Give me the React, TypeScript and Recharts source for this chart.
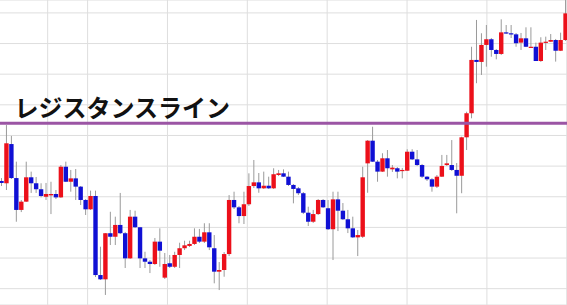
import { Bar, CartesianGrid, ComposedChart, ReferenceLine, XAxis, YAxis } from "recharts";

// OHLC per bar, oldest first (price in chart points)
const opens = [
  80.3, 78.8, 104.4, 82.2, 61.4, 66.8, 82.7, 78.8, 74.9, 70.0,
  70.9, 71.8, 69.6, 89.6, 79.8, 82.0, 76.6, 67.9, 61.8, 70.5,
  18.9, 16.1, 46.2, 43.9, 51.6, 46.2, 29.8, 57.0, 50.1, 29.8,
  27.6, 26.1, 40.7, 17.2, 26.6, 24.3, 32.0, 36.4, 37.9, 39.2,
  43.9, 40.7, 46.8, 36.4, 21.1, 22.2, 32.6, 67.9, 63.1, 57.4,
  65.1, 77.0, 79.4, 75.5, 77.2, 75.5, 84.2, 85.3, 83.1, 77.7,
  75.5, 72.3, 59.6, 53.7, 58.7, 67.9, 62.5, 48.8, 68.3, 60.9,
  55.3, 49.4, 43.5, 43.9, 91.8, 106.6, 92.9, 86.4, 95.1, 87.9,
  88.6, 86.8, 87.0, 99.4, 94.4, 90.7, 83.1, 81.4, 76.6, 83.1,
  90.7, 90.7, 87.5, 83.7, 108.8, 124.5, 159.3, 158.0, 169.1, 172.8,
  165.8, 163.2, 177.3, 176.7, 176.0, 170.6, 173.4, 167.3, 167.9, 158.6,
  170.6, 171.2, 172.3, 165.3, 172.3,
];
const highs = [
  82.2, 116.8, 109.7, 92.9, 67.9, 92.9, 86.4, 82.9, 78.8, 79.0,
  79.8, 74.4, 90.7, 92.9, 87.5, 88.1, 77.0, 68.5, 74.0, 74.0,
  37.4, 46.3, 60.2, 57.0, 72.5, 47.0, 61.4, 60.9, 50.3, 34.1,
  28.7, 43.1, 49.4, 33.3, 32.0, 34.1, 40.0, 41.3, 41.3, 49.4,
  49.0, 52.7, 52.7, 45.0, 27.4, 33.9, 71.1, 73.3, 64.0, 73.3,
  85.3, 94.0, 85.5, 86.4, 83.1, 88.6, 87.5, 87.9, 86.4, 78.3,
  76.4, 73.1, 63.5, 61.4, 68.5, 68.5, 67.9, 73.3, 73.3, 65.9,
  61.4, 57.0, 48.3, 89.6, 107.0, 115.7, 94.0, 98.4, 100.5, 90.7,
  89.4, 88.8, 101.0, 101.0, 100.5, 91.4, 83.5, 82.2, 84.2, 97.3,
  97.3, 107.0, 92.0, 109.2, 125.5, 167.9, 185.4, 176.7, 182.1, 173.6,
  166.4, 185.8, 182.1, 182.1, 176.9, 176.9, 180.6, 180.6, 170.6, 174.1,
  174.5, 176.2, 173.0, 177.1, 198.4,
];
const lows = [
  77.0, 74.4, 81.6, 53.7, 60.0, 66.6, 72.5, 72.5, 69.6, 67.9,
  58.7, 68.5, 69.2, 79.6, 73.3, 67.9, 64.6, 58.1, 61.4, 17.6,
  15.7, 5.9, 38.5, 38.5, 45.7, 23.5, 29.4, 49.6, 23.5, 23.5,
  20.2, 25.5, 24.3, 16.3, 23.5, 23.5, 23.5, 35.2, 37.2, 38.5,
  39.8, 39.8, 35.2, 13.5, 9.1, 17.8, 31.3, 62.0, 52.7, 52.2,
  64.0, 75.7, 72.6, 75.1, 75.1, 75.1, 83.5, 82.9, 77.0, 65.7,
  71.1, 58.7, 50.9, 52.9, 58.1, 62.7, 48.3, 28.7, 47.6, 54.8,
  46.3, 43.1, 31.3, 43.1, 72.6, 92.7, 79.8, 86.2, 83.1, 86.2,
  82.0, 82.0, 86.8, 94.0, 90.1, 82.2, 80.3, 73.3, 75.7, 82.9,
  90.1, 86.8, 59.2, 72.3, 100.5, 121.2, 144.1, 149.5, 154.9, 161.4,
  159.7, 162.5, 176.2, 173.6, 167.9, 165.8, 167.7, 167.1, 158.6, 158.0,
  165.8, 171.0, 158.2, 165.1, 171.7,
];
const closes = [
  79.0, 104.9, 82.2, 61.4, 66.8, 82.7, 78.8, 74.9, 70.5, 71.8,
  71.8, 69.6, 89.6, 79.8, 82.0, 76.6, 67.9, 61.8, 70.5, 18.9,
  16.1, 46.2, 43.9, 51.6, 46.2, 29.8, 57.0, 50.1, 29.8, 27.6,
  26.1, 40.7, 34.8, 26.1, 24.3, 32.0, 36.4, 38.3, 39.2, 43.9,
  40.7, 46.8, 37.0, 21.1, 22.2, 32.6, 67.9, 63.1, 57.4, 65.1,
  77.0, 79.4, 75.5, 77.2, 75.5, 84.7, 85.3, 83.1, 77.7, 75.1,
  72.3, 59.6, 53.7, 58.7, 67.9, 63.1, 48.8, 68.3, 60.9, 55.3,
  49.4, 43.5, 45.0, 82.7, 106.6, 92.9, 86.4, 95.1, 88.6, 89.0,
  86.4, 87.5, 99.4, 94.4, 90.7, 83.1, 81.4, 76.6, 83.1, 90.1,
  91.8, 87.5, 83.7, 108.8, 124.5, 159.3, 158.0, 169.1, 172.8, 165.8,
  163.2, 177.3, 176.7, 176.0, 170.2, 173.4, 167.9, 167.9, 158.6, 170.6,
  171.2, 172.3, 165.3, 172.3, 189.7,
];

// time separators (in bar index units) and price grid
const timeGridTicks = [
  1.75, 9.75, 17.75, 25.75, 33, 33.75, 41.75, 49.75, 57.75, 65.75,
  73.75, 81.75, 89.75, 97.75, 105.75, 113.75,
];
const priceTicks = [
  0, 10, 20, 30, 40, 50, 60, 70, 80, 90,
  100, 110, 120, 130, 140, 150, 160, 170, 180, 190,
];
const resistance = 118;
const resistanceLabel = "レジスタンスライン";

const UP = "#ec101a";
const DOWN = "#1010d4";
const WICK = "#9a9a9a";

const data = opens.map((open, i) => ({
  i,
  open,
  high: highs[i],
  low: lows[i],
  close: closes[i],
}));

function Candle(props: any) {
  const { x, y, width, height, payload } = props;
  const top = Math.min(y, y + height);
  const h = Math.abs(height);
  const range = payload.high - payload.low || 1;
  const toY = (v: number) => top + ((payload.high - v) / range) * h;
  const up = payload.close >= payload.open;
  const bodyTop = toY(Math.max(payload.open, payload.close));
  const bodyBottom = toY(Math.min(payload.open, payload.close));
  const cx = x + width / 2;
  return (
    <g>
      <line x1={cx} x2={cx} y1={top} y2={top + h} stroke={WICK} strokeWidth={1} />
      <rect
        x={x + 0.3}
        y={bodyTop}
        width={width - 0.6}
        height={Math.max(bodyBottom - bodyTop, 1.2)}
        fill={up ? UP : DOWN}
      />
    </g>
  );
}

const renderLabel = (props: any) => {
  const { viewBox } = props;
  return (
    <text
      x={viewBox.x + 15.5}
      y={viewBox.y - 6.5}
      fontSize={24}
      fontWeight={700}
      fontFamily="'Noto Sans CJK JP', sans-serif"
      fill="#111"
    >
      {resistanceLabel}
    </text>
  );
};

export default function App() {
  return (
    <div style={{ position: "absolute", left: -1.5, top: 0, background: "#fff" }}>
      <ComposedChart
        width={569}
        height={305}
        data={data}
        margin={{ top: 0, right: 0, bottom: 0, left: 0 }}
        barCategoryGap={0}
      >
        <XAxis dataKey="i" type="category" hide />
        <XAxis
          xAxisId="time"
          type="number"
          domain={[-0.5, 114.5]}
          ticks={timeGridTicks}
          allowDataOverflow
          hide
        />
        <YAxis
          type="number"
          domain={[-0.65, 198.42]}
          ticks={priceTicks}
          allowDataOverflow
          hide
        />
        <CartesianGrid xAxisId="time" stroke="#dedede" strokeWidth={1} />
        <Bar
          dataKey={(d: any) => [d.low, d.high]}
          shape={<Candle />}
          isAnimationActive={false}
        />
        <ReferenceLine
          y={resistance}
          stroke="#9b55a4"
          strokeWidth={3}
          label={renderLabel}
        />
      </ComposedChart>
    </div>
  );
}
